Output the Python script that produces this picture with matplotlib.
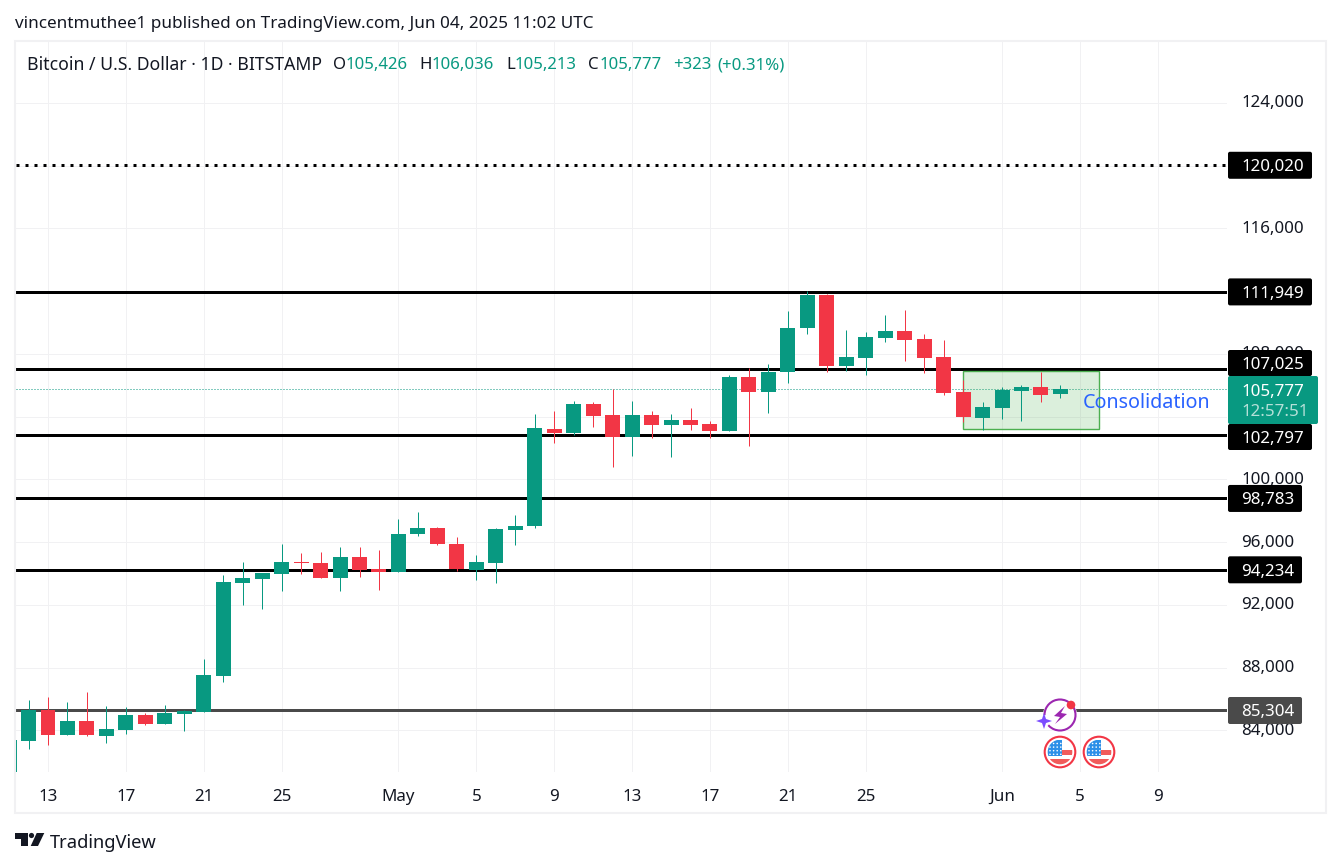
import matplotlib

matplotlib.use("Agg")
import matplotlib.dates as mdates
import matplotlib.pyplot as plt
import pandas as pd
from matplotlib.patches import Arc, Circle, FancyBboxPatch, Polygon, Rectangle

plt.rcParams["font.family"] = ["Noto Sans", "DejaVu Sans"]

FIRST_DAY = "2025-04-11"
opens = [81373, 83349, 85324, 83731, 84623, 83623, 84050, 85006, 84432, 85070,
         85197, 87492, 93420, 93675, 93993, 94758, 94694, 93738, 95077, 94312,
         94121, 96543, 96925, 95905, 94248, 94694, 96798, 97053, 103236, 102981,
         104829, 104128, 102726, 104128, 103491, 103809, 103554, 103108, 106550, 105594,
         106869, 109673, 111777, 107251, 107761, 109036, 109482, 108972, 107825, 105594,
         103937, 104574, 105658, 105913, 105426]
highs = [83500, 85962, 86153, 85835, 86472, 85580, 85516, 85133, 85643, 85324,
         88575, 93930, 94758, 94057, 95905, 95332, 95396, 95714, 95714, 95523,
         97499, 97945, 96989, 96352, 95204, 96925, 97754, 104192, 104383, 105020,
         104957, 105785, 105020, 104383, 104192, 104574, 103745, 106678, 107124, 107379,
         110757, 112032, 111840, 109546, 109418, 110502, 110821, 109291, 108908, 106359,
         104957, 105913, 106040, 106869, 106036]
lows = [81373, 82839, 83094, 83700, 83667, 83177, 83795, 84368, 84400, 83986,
        85197, 87109, 92017, 91762, 92910, 93993, 93738, 92910, 93802, 92973,
        94121, 96415, 95842, 94184, 93611, 93420, 95842, 96925, 102343, 102853,
        103363, 100813, 101515, 102662, 101451, 103172, 102662, 103108, 102152, 104255,
        106168, 109291, 106869, 106932, 106678, 108781, 107570, 106805, 105403, 103682,
        103172, 103873, 103745, 104957, 105213]
closes = [83412, 85324, 83687, 84623, 83687, 84114, 85006, 84432, 85133, 85261,
          87556, 93483, 93738, 94057, 94758, 94694, 93738, 95077, 94248, 94121,
          96543, 96925, 95905, 94312, 94758, 96862, 97053, 103299, 102981, 104829,
          104064, 102726, 104128, 103491, 103809, 103491, 103108, 106550, 105594, 106869,
          109673, 111777, 107251, 107825, 109100, 109482, 108908, 107761, 105530, 104000,
          104638, 105721, 105913, 105403, 105777]

grid_prices = [84000, 88000, 92000, 96000, 100000, 104000, 108000, 112000, 116000, 120000, 124000]
axis_prices = [84000, 88000, 92000, 96000, 100000, 108000, 116000, 124000]
tick_dates = ["2025-04-13", "2025-04-17", "2025-04-21", "2025-04-25", "2025-05-01", "2025-05-05",
              "2025-05-09", "2025-05-13", "2025-05-17", "2025-05-21", "2025-05-25", "2025-06-01",
              "2025-06-05", "2025-06-09"]
tick_labels = ["13", "17", "21", "25", "May", "5", "9", "13", "17", "21", "25", "Jun", "5", "9"]
solid_levels = [111949, 107025, 102797, 98783, 94234]
dotted_level = 120020
grey_level = 85304
last_close = 105777
box_start, box_end = "2025-05-30", "2025-06-06"
box_low, box_high = 103200, 106900

GREEN = "#089981"
RED = "#f23645"
INK = "#131722"
GRID = "#f1f1f3"
W, H = 1341, 867
PANE = (16, 41, 1227, 772)  # left, top, right, bottom in pixels
PX_PER_DAY = 19.47
PX_PER_USD = 0.015688
ANCHOR_Y = 291.9
AXIS_FS = 12.2


def _price_y(price):
    return ANCHOR_Y + (111949 - price) * PX_PER_USD


def _pane_limits():
    anchor = mdates.date2num(pd.Timestamp("2025-04-13"))
    xlim = (anchor + (PANE[0] - 48) / PX_PER_DAY, anchor + (PANE[2] - 48) / PX_PER_DAY)
    ylim = (111949 - (PANE[3] - ANCHOR_Y) / PX_PER_USD, 111949 + (ANCHOR_Y - PANE[1]) / PX_PER_USD)
    return xlim, ylim


def _draw_candles(ax):
    days = mdates.date2num(pd.date_range(FIRST_DAY, periods=len(opens)))
    colors = [GREEN if c >= o else RED for o, c in zip(opens, closes)]
    wicks = ax.vlines(days, lows, highs, colors=colors, linewidth=0.72, zorder=4)
    wicks.set_snap(True)
    bottoms = [min(o, c) for o, c in zip(opens, closes)]
    heights = [abs(c - o) for o, c in zip(opens, closes)]
    ax.bar(days, heights, bottom=bottoms, width=0.77, color=colors, linewidth=0, zorder=5)


def _draw_levels(ax):
    for level in solid_levels:
        ax.axhline(level, color="black", linewidth=2.16, zorder=3)
    ax.axhline(grey_level, color="#4a4a4a", linewidth=2.16, zorder=3)
    ax.axhline(dotted_level, color="black", linewidth=2.16, dashes=(1, 2), zorder=3)
    ax.axhline(last_close, color=GREEN, linewidth=0.72, dashes=(1, 2), zorder=3)


def _draw_box(ax):
    left = mdates.date2num(pd.Timestamp(box_start))
    right = mdates.date2num(pd.Timestamp(box_end))
    ax.add_patch(Rectangle((left, box_low), right - left, box_high - box_low,
                           facecolor=(0.298, 0.686, 0.314, 0.2), edgecolor="#4caf50",
                           linewidth=1.0, zorder=3.5))


def _label(px, y_px, right, height, text, bg="black", fg="white"):
    px.add_patch(FancyBboxPatch((1228, y_px - height / 2), right - 1228, height,
                                boxstyle="round,pad=0,rounding_size=2", facecolor=bg,
                                edgecolor="none", zorder=6))
    px.text(1241, y_px, text, color=fg, fontsize=AXIS_FS, va="center_baseline", ha="left",
            fontweight="semibold", zorder=7)


def _draw_price_axis(px):
    for price in axis_prices:
        px.text(1241, _price_y(price) - 1.5, f"{price:,}", color=INK, fontsize=AXIS_FS,
                va="center_baseline", ha="left", zorder=5)
    for level, right in [(120020, 1312), (111949, 1312), (98783, 1302), (94234, 1302)]:
        _label(px, _price_y(level), right, 27, f"{level:,}")
    _label(px, 363, 1312, 26, "107,025")
    _label(px, 437, 1312, 26, "102,797")
    _label(px, 710.5, 1302, 27, "85,304", bg="#4a4a4a")
    px.add_patch(FancyBboxPatch((1228, 376), 90, 48, boxstyle="round,pad=0,rounding_size=2",
                                facecolor=GREEN, edgecolor="none", zorder=8))
    px.text(1241, 389.5, "105,777", color="white", fontsize=AXIS_FS, va="center_baseline",
            fontweight="semibold", zorder=9)
    px.text(1241, 410, "12:57:51", color="#b5e0d8", fontsize=AXIS_FS, va="center_baseline",
            fontweight="semibold", zorder=9)


def _draw_header(px):
    px.text(15, 22.5, "vincentmuthee1 published on TradingView.com, Jun 04, 2025 11:02 UTC",
            color=INK, fontsize=12.3, va="center_baseline")
    px.text(27, 63, "Bitcoin / U.S. Dollar · 1D · BITSTAMP", color=INK, fontsize=12.7, va="center_baseline")
    pieces = [(333, "O", INK), (346, "105,426", GREEN), (419, "H", INK), (432, "106,036", GREEN),
              (506, "L", INK), (515, "105,213", GREEN), (588, "C", INK), (600, "105,777", GREEN),
              (673, "+323", GREEN), (717, "(+0.31%)", GREEN)]
    for x, text, color in pieces:
        px.text(x, 63, text, color=color, fontsize=12.1, va="center_baseline")


def _draw_flag(px, cx, cy):
    px.add_patch(Circle((cx, cy), 15.3, facecolor="white", edgecolor=RED, linewidth=1.5, zorder=6))
    clip = Circle((cx, cy), 12.3, transform=px.transData)
    for x, y, w, h, color in [(cx + 2, cy - 2, 11, 4.7, "#f15b5b"), (cx - 13, cy + 7, 26, 6, "#f15b5b"),
                              (cx - 12.5, cy - 12, 14.5, 16, "#2c8fe8")]:
        patch = Rectangle((x, y), w, h, facecolor=color, edgecolor="none", zorder=7)
        px.add_patch(patch)
        patch.set_clip_path(clip)
    for row in range(4):
        for col in range(4):
            if row == 0 and col == 0:
                continue
            px.add_patch(Circle((cx - 10 + col * 3.6, cy - 8.5 + row * 3.6), 0.8, facecolor="white",
                                edgecolor="none", zorder=8))


def _draw_icons(px):
    px.add_patch(Circle((1060, 715), 17, facecolor="white", edgecolor="none", zorder=6))
    px.add_patch(Arc((1060, 715), 31, 31, theta1=0, theta2=360, edgecolor="#9c27b0", linewidth=1.5, zorder=7))
    px.add_patch(Polygon([(1065, 706), (1054, 716), (1060, 717), (1055, 724), (1067, 714), (1061, 713)],
                         facecolor="#9c27b0", edgecolor="none", zorder=7))
    px.add_patch(Circle((1044, 721), 6, facecolor="white", edgecolor="none", zorder=7))
    px.add_patch(Polygon([(1044, 713), (1046, 719), (1052, 721), (1046, 723), (1044, 729), (1042, 723), (1036, 721), (1042, 719)],
                         facecolor="#7c4dff", edgecolor="none", zorder=8))
    px.add_patch(Circle((1071, 705), 4.3, facecolor=RED, edgecolor="none", zorder=8))
    _draw_flag(px, 1060, 752)
    _draw_flag(px, 1099, 752)


def _draw_footer(px):
    px.add_patch(Polygon([(15, 833), (28, 833), (28, 846), (21, 846), (21, 839), (15, 839)], facecolor=INK, edgecolor="none"))
    px.add_patch(Circle((31.5, 835.5), 2.6, facecolor=INK, edgecolor="none"))
    px.add_patch(Polygon([(36.7, 833), (44.3, 833), (38, 846), (30.7, 846)], facecolor=INK, edgecolor="none"))
    px.text(50, 841.5, "TradingView", color=INK, fontsize=13.2, va="center_baseline")


def main():
    fig = plt.figure(figsize=(W / 100, H / 100), dpi=100, facecolor="white")
    ax = fig.add_axes([PANE[0] / W, 1 - PANE[3] / H, (PANE[2] - PANE[0]) / W, (PANE[3] - PANE[1]) / H])
    xlim, ylim = _pane_limits()
    ax.set_xlim(xlim)
    ax.set_ylim(ylim)
    for spine in ax.spines.values():
        spine.set_visible(False)
    tick_pos = mdates.date2num(pd.to_datetime(tick_dates))
    ax.set_xticks(tick_pos)
    ax.set_xticklabels(tick_labels)
    ax.set_yticks(grid_prices)
    ax.set_yticklabels([])
    ax.tick_params(length=0, pad=12, labelsize=12.2, labelcolor=INK)
    for tick, text in zip(ax.get_xticklabels(), tick_labels):
        if text in ("May", "Jun"):
            tick.set_fontweight("semibold")
    ax.grid(True, color=GRID, linewidth=0.72, zorder=0)
    ax.set_axisbelow(True)

    _draw_levels(ax)
    _draw_box(ax)
    _draw_candles(ax)

    px = fig.add_axes([0, 0, 1, 1], zorder=10)
    px.set_xlim(0, W)
    px.set_ylim(H, 0)
    px.axis("off")
    px.patch.set_alpha(0)
    px.add_patch(Rectangle((15, 41), 1311, 772, facecolor="none", edgecolor=GRID, linewidth=1.5))
    px.text(1083, 401, "Consolidation", color="#2962ff", fontsize=14.2, va="center_baseline", zorder=6)
    _draw_price_axis(px)
    _draw_header(px)
    _draw_icons(px)
    _draw_footer(px)

    fig.savefig("out.png", dpi=100)


if __name__ == "__main__":
    main()
